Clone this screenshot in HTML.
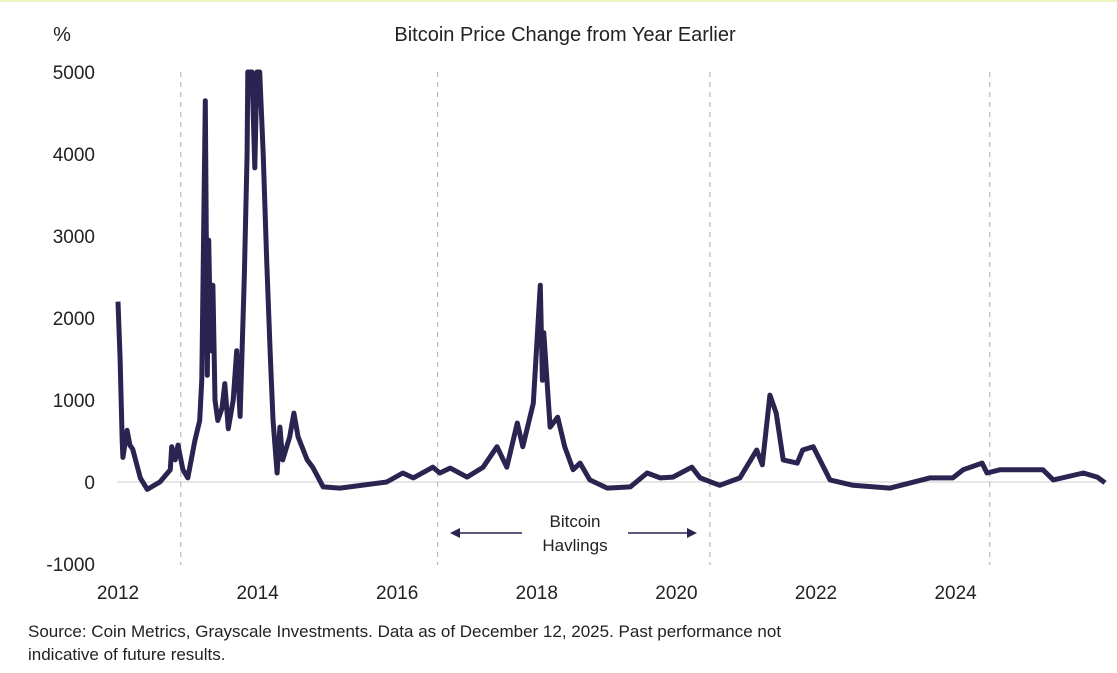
<!DOCTYPE html>
<html><head><meta charset="utf-8"><style>
body{margin:0;background:#fff;}
svg{display:block;font-family:"Liberation Sans",sans-serif;}
</style></head><body>
<svg width="1117" height="673">
<rect x="0" y="0" width="1117" height="2" fill="#eef3c0"/>
<text x="62" y="41" font-size="20" fill="#222" text-anchor="middle">%</text>
<text x="565" y="41" font-size="20" fill="#222" text-anchor="middle">Bitcoin Price Change from Year Earlier</text>
<g id="grid"></g>
<g id="ticks"></g>
<path id="line" fill="none" stroke="#2a2451" stroke-width="5" stroke-linejoin="round"/>
<g>
<text x="575" y="527" font-size="17" fill="#222" text-anchor="middle">Bitcoin</text>
<text x="575" y="551" font-size="17" fill="#222" text-anchor="middle">Havlings</text>
<line x1="452" y1="533" x2="522" y2="533" stroke="#2a2451" stroke-width="1.5"/>
<line x1="628" y1="533" x2="695" y2="533" stroke="#2a2451" stroke-width="1.5"/>
<path d="M450 533 L460 528 L460 538 Z" fill="#2a2451"/>
<path d="M697 533 L687 528 L687 538 Z" fill="#2a2451"/>
</g>
<text x="28" y="637" font-size="17" fill="#222">Source: Coin Metrics, Grayscale Investments. Data as of December 12, 2025. Past performance not</text>
<text x="28" y="660" font-size="17" fill="#222">indicative of future results.</text>
</svg>
<script>
const yTicks=[5000,4000,3000,2000,1000,0,-1000];
const xTicks=[2012,2014,2016,2018,2020,2022,2024];
const halvings=[2012.9,2016.58,2020.48,2024.49];
const dates=[
2012.0,2012.03,2012.06,2012.07,2012.13,2012.17,2012.21,2012.32,2012.42,2012.6,
2012.75,2012.77,2012.82,2012.86,2012.93,2013.0,2013.1,2013.17,2013.2,2013.25,
2013.28,2013.3,2013.33,2013.36,2013.39,2013.43,2013.49,2013.53,2013.58,2013.65,
2013.7,2013.75,2013.81,2013.85,2013.86,2013.92,2013.96,2013.99,2014.03,2014.08,
2014.13,2014.18,2014.22,2014.28,2014.32,2014.36,2014.46,2014.52,2014.58,2014.71,
2014.79,2014.94,2015.18,2015.85,2016.08,2016.23,2016.51,2016.61,2016.76,2017.0,
2017.23,2017.43,2017.57,2017.72,2017.8,2017.95,2018.05,2018.08,2018.1,2018.19,
2018.3,2018.4,2018.52,2018.62,2018.76,2019.01,2019.34,2019.58,2019.77,2019.95,
2020.22,2020.34,2020.62,2020.91,2021.15,2021.23,2021.34,2021.43,2021.53,2021.73,
2021.81,2021.96,2022.2,2022.53,2023.06,2023.63,2023.96,2024.11,2024.38,2024.45,
2024.64,2025.25,2025.4,2025.83,2026.03,2026.14];
const values=[
2200,1500,500,300,630,450,400,50,-90,0,
150,430,270,450,150,50,500,750,1250,4650,
1300,2950,1600,2400,1000,750,900,1200,650,1000,
1600,800,2500,4000,5000,5000,3830,5000,5000,4000,
2700,1570,760,110,670,270,550,840,550,270,
180,-60,-75,0,110,50,180,110,170,60,
180,430,180,720,430,960,2400,1240,1820,670,
790,430,150,230,25,-75,-60,110,50,60,
180,50,-40,50,390,210,1060,840,270,230,
390,430,25,-40,-75,50,50,150,230,110,
150,150,25,110,60,-10];
const NS='http://www.w3.org/2000/svg';
const X=d=>118+(d-2012)*69.8, Y=v=>482-v*0.082;
const grid=document.getElementById('grid'),ticks=document.getElementById('ticks');
function el(t,a,p){const e=document.createElementNS(NS,t);for(const k in a)e.setAttribute(k,a[k]);p.appendChild(e);return e;}
const zl=el('line',{x1:117,x2:1108,y1:Y(0),y2:Y(0),stroke:'#ddd','stroke-width':1.5},grid);


halvings.forEach(h=>{const l=el('line',{x1:X(h),x2:X(h),y1:72,y2:565,stroke:'#aaa','stroke-dasharray':'5,5','stroke-width':1},grid);

});
yTicks.forEach(v=>{const t=el('text',{x:95,y:Y(v)+7,'font-size':19,fill:'#222','text-anchor':'end'},ticks);t.textContent=v;

});
xTicks.forEach(v=>{const t=el('text',{x:X(v),y:599,'font-size':19,fill:'#222','text-anchor':'middle'},ticks);t.textContent=v;

});
const n=Math.min(dates.length,values.length);
let d='';for(let i=0;i<n;i++)d+=(i?'L':'M')+X(dates[i]).toFixed(1)+' '+Y(Math.min(values[i],5000)).toFixed(1);
document.getElementById('line').setAttribute('d',d);
</script>
</body></html>
